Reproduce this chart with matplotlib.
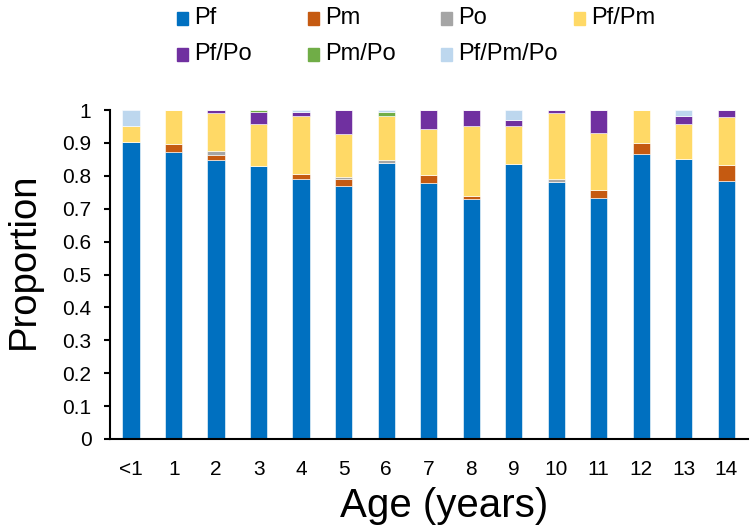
import matplotlib
matplotlib.use('Agg')
import matplotlib.pyplot as plt
from matplotlib.patches import Rectangle
import numpy as np

plt.rcParams['font.family'] = ['Liberation Sans', 'DejaVu Sans']

# 数据
ages = ['<1', '1', '2', '3', '4', '5', '6', '7', '8', '9', '10', '11', '12', '13', '14']
pf = [0.904, 0.871, 0.848, 0.830, 0.791, 0.769, 0.838, 0.778, 0.730, 0.836, 0.780, 0.734, 0.865, 0.850, 0.784]
pm = [0, 0.027, 0.014, 0, 0.013, 0.020, 0, 0.025, 0.010, 0, 0, 0.023, 0.035, 0, 0.049]
po = [0, 0, 0.014, 0, 0, 0.008, 0.010, 0, 0, 0, 0.011, 0, 0, 0, 0]
pf_pm = [0.048, 0.102, 0.114, 0.127, 0.178, 0.129, 0.134, 0.140, 0.212, 0.116, 0.199, 0.172, 0.100, 0.108, 0.146]
pf_po = [0, 0, 0.010, 0.037, 0.011, 0.074, 0, 0.057, 0.048, 0.018, 0.010, 0.071, 0, 0.024, 0.021]
pm_po = [0, 0, 0, 0.006, 0, 0, 0.012, 0, 0, 0, 0, 0, 0, 0, 0]
pf_pm_po = [0.048, 0, 0, 0, 0.007, 0, 0.006, 0, 0, 0.030, 0, 0, 0, 0.018, 0]

series_names = ['Pf', 'Pm', 'Po', 'Pf/Pm', 'Pf/Po', 'Pm/Po', 'Pf/Pm/Po']
series_values = [pf, pm, po, pf_pm, pf_po, pm_po, pf_pm_po]
colors = ['#0070C0', '#C55A11', '#A5A5A5', '#FFD966', '#7030A0', '#70AD47', '#BDD7EE']

fig = plt.figure(figsize=(7.53, 5.31), dpi=100)
ax = fig.add_axes([0.146, 0.1733, 0.8467, 0.6195])

x = np.arange(len(ages))
bottom = np.zeros(len(ages))
for name, vals, c in zip(series_names, series_values, colors):
    vals = np.array(vals)
    ax.bar(x, vals, width=0.41, bottom=bottom, color=c, label=name,
           edgecolor='white', linewidth=0.4)
    bottom += vals

ax.set_xlim(-0.5, len(ages) - 0.5)
ax.set_ylim(0, 1)
ax.set_yticks(np.arange(0, 1.01, 0.1))
ax.set_yticklabels(['0', '0.1', '0.2', '0.3', '0.4', '0.5', '0.6', '0.7', '0.8', '0.9', '1'])
ax.set_xticks(x)
ax.set_xticklabels(ages)
ax.tick_params(axis='y', length=4.3, width=1.5, labelsize=15, pad=9, colors='black')
ax.tick_params(axis='x', length=0, labelsize=15, pad=15)
for s in ['top', 'right']:
    ax.spines[s].set_visible(False)
ax.spines['left'].set_linewidth(1.5)
ax.spines['bottom'].set_linewidth(1.5)

ax.set_ylabel('Proportion', fontsize=27.5)
ax.yaxis.set_label_coords(-0.107, 0.541)
ax.set_xlabel('Age (years)', fontsize=29)
ax.xaxis.set_label_coords(0.524, -0.145)

# 图例（手动排列，4列等间距）
W, H = 753, 531
col_x = [177, 308, 441, 574]
row_y = [18.5, 54.5]
for i, (name, c) in enumerate(zip(series_names, colors)):
    px = col_x[i % 4]
    py = row_y[i // 4]
    fig.add_artist(Rectangle((px / W, 1 - (py + 6) / H), 11 / W, 12 / H,
                             transform=fig.transFigure, color=c))
    fig.text((px + 17) / W, 1 - py / H, name, fontsize=17, va='center', ha='left')

plt.savefig('out.png', dpi=100)
